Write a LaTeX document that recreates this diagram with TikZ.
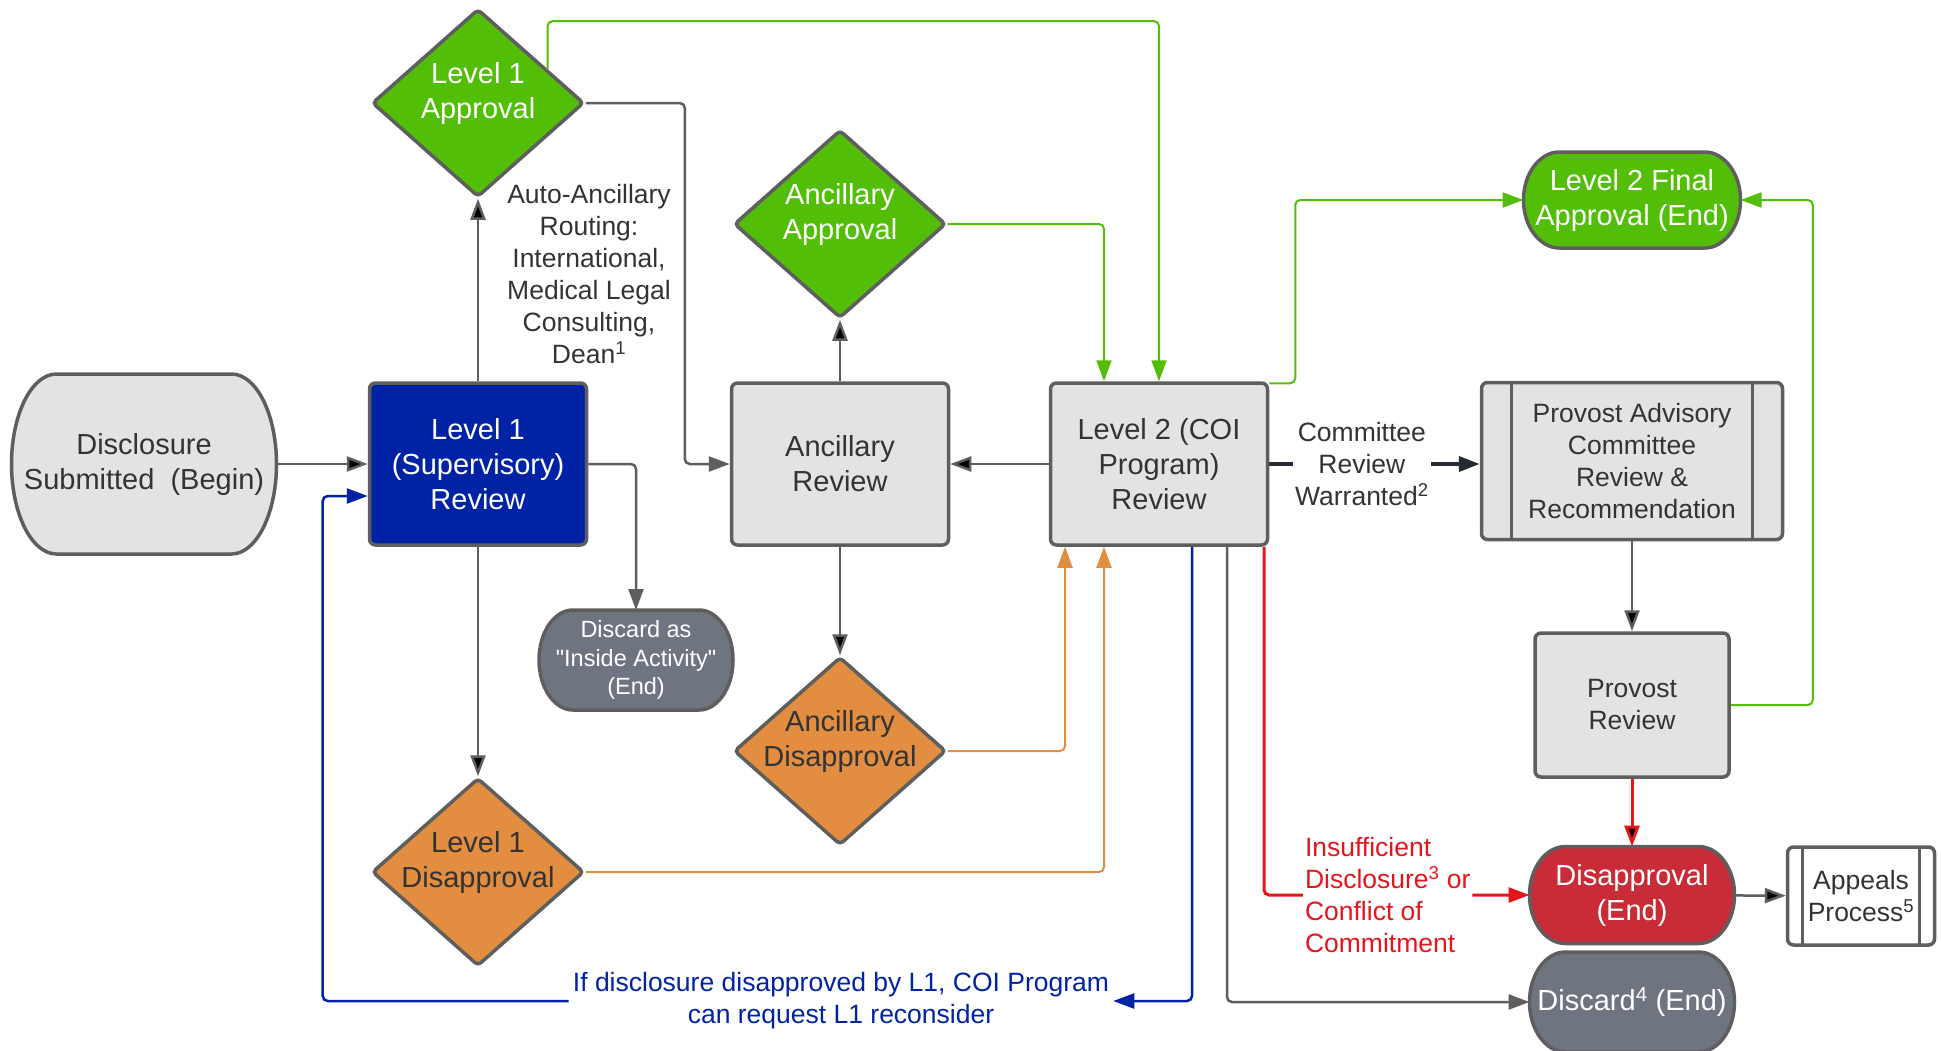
\documentclass[tikz,border=0pt]{standalone}
\usepackage{fontspec}
\setmainfont{Liberation Sans}
\usetikzlibrary{shapes.geometric}
\usetikzlibrary{arrows.meta}
\usetikzlibrary{backgrounds}

\definecolor{boxgray}{HTML}{E3E3E3}
\definecolor{rimgray}{HTML}{5E5E5E}
\definecolor{inkgray}{HTML}{333333}
\definecolor{okgreen}{HTML}{53BE07}
\definecolor{supblue}{HTML}{0022A5}
\definecolor{noorange}{HTML}{E28D40}
\definecolor{endred}{HTML}{C92B37}
\definecolor{linered}{HTML}{E8141B}
\definecolor{endgray}{HTML}{6E7480}
\definecolor{inkdark}{HTML}{262B33}

\begin{document}
\begin{tikzpicture}[x=1pt,y=-1pt,>={Triangle[length=21pt,width=15pt]},
	bigtext/.style={font=\fontsize{29}{35}\selectfont},
	smalltext/.style={font=\fontsize{26.5}{32}\selectfont},
	process/.style={rectangle,draw=rimgray,line width=3.5pt,rounded corners=6pt,fill=boxgray,text=inkgray,align=center,inner sep=0pt,minimum width=217pt,minimum height=162pt},
	subproc/.style={process,path picture={
			\draw[rimgray,line width=3.5pt] ([xshift=#1]path picture bounding box.north west) -- ([xshift=#1]path picture bounding box.south west);
			\draw[rimgray,line width=3.5pt] ([xshift=-#1]path picture bounding box.north east) -- ([xshift=-#1]path picture bounding box.south east);}},
	decision/.style={diamond,draw=rimgray,line width=3.5pt,rounded corners=4pt,inner sep=0pt,minimum width=212pt,minimum height=188pt},
	terminal/.style={rectangle,inner sep=0pt,outer sep=0pt,align=center,text=white},
	termline/.style={draw=rimgray,line width=3.5pt},
	flow/.style={->,draw=rimgray,line width=2.5pt,rounded corners=5pt},
	yesline/.style={->,draw=okgreen,line width=2pt,rounded corners=5pt},
	noline/.style={->,draw=noorange,line width=2pt,rounded corners=5pt},
	backline/.style={->,draw=supblue,line width=2.5pt,rounded corners=5pt},
	redline/.style={->,draw=linered,line width=3pt,rounded corners=5pt},
	committee/.style={->,draw=inkdark,line width=4pt}]
	
	\useasboundingbox (0,0) rectangle (1941,1050);
	
	\node[terminal,text=inkgray,bigtext,minimum width=265pt,minimum height=180pt] at (144,464) (begin) {Disclosure\\Submitted\ \ (Begin)};
	\node[process,fill=supblue,text=white,bigtext] at (478,464) (l1sup) {Level 1\\(Supervisory)\\Review};
	\node[decision,fill=okgreen,label={[bigtext,text=white,align=center,yshift=10pt]center:{Level 1\\Approval}}] at (478,103) (l1ok) {};
	\node[decision,fill=noorange,label={[bigtext,text=inkgray,align=center,yshift=10pt]center:{Level 1\\Disapproval}}] at (478,872) (l1no) {};
	\node[terminal,font=\fontsize{23.5}{28.5}\selectfont,minimum width=194pt,minimum height=100pt] at (636,660) (discard1) {Discard as\\\textquotedbl Inside Activity\textquotedbl\\(End)};
	\node[process,bigtext] at (840,464) (ancrev) {Ancillary\\Review};
	\node[decision,fill=okgreen,label={[bigtext,text=white,align=center,yshift=10pt]center:{Ancillary\\Approval}}] at (840,224) (ancok) {};
	\node[decision,fill=noorange,label={[bigtext,text=inkgray,align=center,yshift=10pt]center:{Ancillary\\Disapproval}}] at (840,751) (ancno) {};
	\node[process,bigtext] at (1159,464) (l2) {Level 2 (COI\\Program)\\Review};
	\node[terminal,bigtext,minimum width=217pt,minimum height=96pt] at (1632,200) (final) {Level 2 Final\\Approval (End)};
	\node[subproc=30pt,smalltext,minimum width=301pt,minimum height=157pt] at (1632,461) (pac) {Provost Advisory\\Committee\\Review \&\\Recommendation};
	\node[process,smalltext,minimum width=194pt,minimum height=144pt] at (1632,705) (provost) {Provost\\Review};
	\node[terminal,bigtext,minimum width=205pt,minimum height=97pt] at (1632,895) (disapp) {Disapproval\\(End)};
	\node[subproc=15pt,fill=white,smalltext,minimum width=147pt,minimum height=98pt] at (1861,896) (appeals) {Appeals\\Process\textsuperscript{5}};
	\node[terminal,bigtext,minimum width=205pt,minimum height=100pt] at (1632,1002) (discard4) {Discard\textsuperscript{4} (End)};
	
	\node[smalltext,text=inkgray,align=center] at (589,274) (routing) {Auto-Ancillary\\Routing:\\International,\\Medical Legal\\Consulting,\\Dean\textsuperscript{1}};
	\node[smalltext,text=supblue,align=center,inner sep=4pt] at (841,1001) (reconsider) {If disclosure disapproved by L1, COI Program\\can request L1 reconsider};
	
	\begin{scope}[on background layer]
		\draw[termline,fill=boxgray] ([xshift=45pt]begin.north west) -- ([xshift=-45pt]begin.north east) arc[start angle=90,end angle=-90,x radius=45pt,y radius=90pt] -- ([xshift=45pt]begin.south west) arc[start angle=270,end angle=90,x radius=45pt,y radius=90pt] -- cycle;
		\draw[termline,fill=okgreen] ([xshift=36pt]final.north west) -- ([xshift=-36pt]final.north east) arc[start angle=90,end angle=-90,x radius=36pt,y radius=48pt] -- ([xshift=36pt]final.south west) arc[start angle=270,end angle=90,x radius=36pt,y radius=48pt] -- cycle;
		\draw[termline,fill=endgray] ([xshift=34pt]discard1.north west) -- ([xshift=-34pt]discard1.north east) arc[start angle=90,end angle=-90,x radius=34pt,y radius=50pt] -- ([xshift=34pt]discard1.south west) arc[start angle=270,end angle=90,x radius=34pt,y radius=50pt] -- cycle;
		\draw[termline,fill=endred] ([xshift=36pt]disapp.north west) -- ([xshift=-36pt]disapp.north east) arc[start angle=90,end angle=-90,x radius=36pt,y radius=48.5pt] -- ([xshift=36pt]disapp.south west) arc[start angle=270,end angle=90,x radius=36pt,y radius=48.5pt] -- cycle;
		\draw[termline,fill=endgray] ([xshift=36pt]discard4.north west) -- ([xshift=-36pt]discard4.north east) arc[start angle=90,end angle=-90,x radius=36pt,y radius=50pt] -- ([xshift=36pt]discard4.south west) arc[start angle=270,end angle=90,x radius=36pt,y radius=50pt] -- cycle;
	\end{scope}
	
	\path[flow]
	(begin) edge (l1sup)
	(l1sup) edge (l1ok)
	(l1sup) edge (l1no)
	(ancrev) edge (ancok)
	(ancrev) edge (ancno)
	(l2) edge (ancrev)
	(pac) edge (provost)
	(disapp) edge (appeals)
	;
	\path[redline] (provost) edge (disapp);
	
	\draw[flow] (l1ok.east) -- ++(99,0) |- (ancrev.west);
	\draw[flow] (l1sup.east) -| (discard1.north);
	\draw[flow] ([xshift=68pt]l2.south) |- (discard4.west);
	
	\draw[yesline] (l1ok.26) -- ++(0,-48) -| (l2.north);
	\draw[yesline] (ancok.east) -| ([xshift=-55pt]l2.north);
	\draw[yesline] ([yshift=-2pt]l2.north east) -- ++(26,0) |- (final.west);
	\draw[yesline] (provost.east) -- ++(82,0) |- (final.east);
	
	\draw[noline] (ancno.east) -| ([xshift=-94pt]l2.south);
	\draw[noline] (l1no.east) -| ([xshift=-55pt]l2.south);
	
	\draw[committee] (l2) -- node[pos=0.44,fill=white,smalltext,text=inkgray,align=center,inner sep=2pt] {Committee\\Review\\Warranted\textsuperscript{2}} (pac.west |- l2);
	\draw[redline] ([xshift=105pt]l2.south) |- node[pos=0.733,fill=white,smalltext,text=linered,align=left,inner sep=2pt] {Insufficient\\Disclosure\textsuperscript{3} or\\Conflict of\\Commitment} (disapp.west);
	
	\draw[backline] ([xshift=33pt]l2.south) |- (reconsider.east);
	\draw[backline] (reconsider.west) -- ++(-246,0) |- ([yshift=-32pt]l1sup.west);
	
\end{tikzpicture}
\end{document}
